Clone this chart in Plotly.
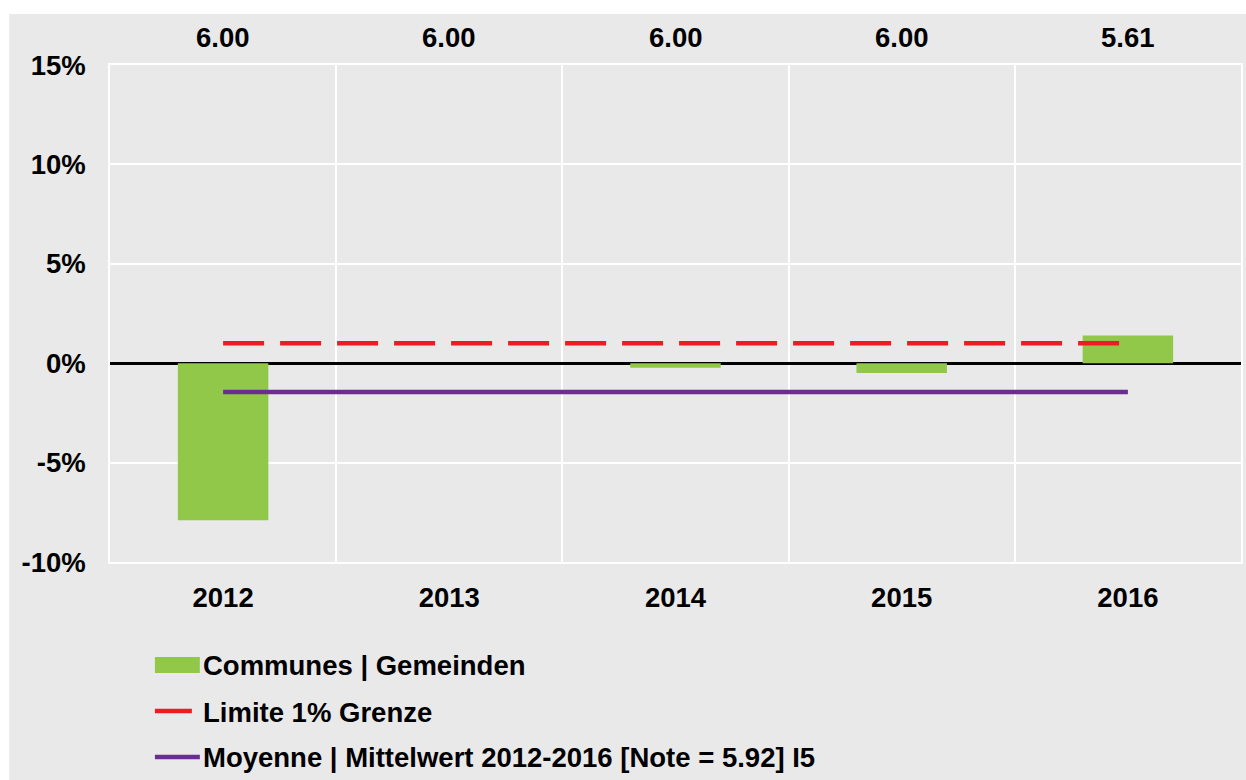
import plotly.graph_objects as go

# Data
years = ["2012", "2013", "2014", "2015", "2016"]
change_pct = [-7.9, 0.0, -0.23, -0.49, 1.39]      # Communes | Gemeinden, in %
notes = [6.00, 6.00, 6.00, 6.00, 5.61]
limit_pct = 1.0
y_ticks = [-10, -5, 0, 5, 10, 15]

mean_pct = sum(change_pct) / len(change_pct)
mean_note = sum(notes) / len(notes)

# Figure geometry (pixels)
W, H = 1246, 780
ML, MR, MT, MB = 110, 3, 65, 218
PW, PH = W - ML - MR, H - MT - MB


def px_x(p):
    return (p - ML) / PW


def px_y(p):
    return (H - MB - p) / PH


GREEN = "#92C84A"
RED = "#ED1C24"
PURPLE = "#6B2D90"
BG = "#E9E9E9"
FONT = "Liberation Sans, Arial, sans-serif"
FS = 27.5

fig = go.Figure()

fig.add_trace(go.Bar(
    x=years, y=change_pct, width=0.4,
    marker=dict(color=GREEN, line=dict(width=0)),
    name="Communes | Gemeinden", showlegend=False,
))

fig.add_trace(go.Scatter(
    x=[years[0], years[-1]], y=[limit_pct, limit_pct], mode="lines",
    line=dict(color=RED, width=4.5, dash="41px,16px"),
    name="Limite 1% Grenze", showlegend=False,
))

fig.add_trace(go.Scatter(
    x=[years[0], years[-1]], y=[mean_pct, mean_pct], mode="lines",
    line=dict(color=PURPLE, width=4.5),
    name="Moyenne | Mittelwert", showlegend=False,
))

annotations = []
# Notes above each year (category index positions)
for i, n in enumerate(notes):
    annotations.append(dict(
        x=i, xref="x", y=px_y(38), yref="paper", yanchor="middle",
        text=f"<b>{n:.2f}</b>", showarrow=False,
        font=dict(family=FONT, size=FS, color="black"),
    ))

# Legend (drawn manually)
legend_rows = [
    ("Communes | Gemeinden", 665),
    ("Limite 1% Grenze", 712),
    (f"Moyenne | Mittelwert {years[0]}-{years[-1]} [Note = {mean_note:.2f}] I5", 757),
]
for text, yc in legend_rows:
    annotations.append(dict(
        x=px_x(201), xref="paper", xanchor="left",
        y=px_y(yc), yref="paper", yanchor="middle",
        text=f"<b>{text}</b>", showarrow=False,
        font=dict(family=FONT, size=FS, color="black"),
    ))

shapes = [
    # white page edge on the left and top
    dict(type="rect", xref="paper", yref="paper", layer="below",
         x0=px_x(-5), x1=px_x(9), y0=px_y(H + 5), y1=px_y(-5),
         fillcolor="white", line=dict(width=0)),
    dict(type="rect", xref="paper", yref="paper", layer="below",
         x0=px_x(-5), x1=px_x(W + 5), y0=px_y(14), y1=px_y(-5),
         fillcolor="white", line=dict(width=0)),
    # legend swatches
    dict(type="rect", xref="paper", yref="paper",
         x0=px_x(155), x1=px_x(200), y0=px_y(673), y1=px_y(657),
         fillcolor=GREEN, line=dict(width=0)),
    dict(type="line", xref="paper", yref="paper",
         x0=px_x(155), x1=px_x(192), y0=px_y(711), y1=px_y(711),
         line=dict(color=RED, width=4.5)),
    dict(type="line", xref="paper", yref="paper",
         x0=px_x(155), x1=px_x(200), y0=px_y(757), y1=px_y(757),
         line=dict(color=PURPLE, width=4.5)),
]

fig.update_layout(
    width=W, height=H,
    margin=dict(l=ML, r=MR, t=MT, b=MB),
    paper_bgcolor=BG, plot_bgcolor=BG,
    showlegend=False,
    annotations=annotations,
    shapes=shapes,
    font=dict(family=FONT, size=FS, color="black"),
)

fig.update_xaxes(
    type="category", tickson="boundaries",
    showgrid=True, gridcolor="white", gridwidth=1.5,
    showline=True, linecolor="white", linewidth=1.5, mirror=True,
    ticks="", ticklabelstandoff=10,
    tickfont=dict(family=FONT, size=FS, color="black", weight="bold"),
    range=[-0.5, 4.5],
)

fig.update_yaxes(
    range=[-10, 15], tickvals=y_ticks, ticktext=[f"{v}%" for v in y_ticks],
    showgrid=True, gridcolor="white", gridwidth=1.5,
    showline=True, linecolor="white", linewidth=1.5, mirror=True,
    zeroline=True, zerolinecolor="black", zerolinewidth=2.5,
    ticks="", ticklabelstandoff=17,
    tickfont=dict(family=FONT, size=FS, color="black", weight="bold"),
)

fig.write_html("out.html")
